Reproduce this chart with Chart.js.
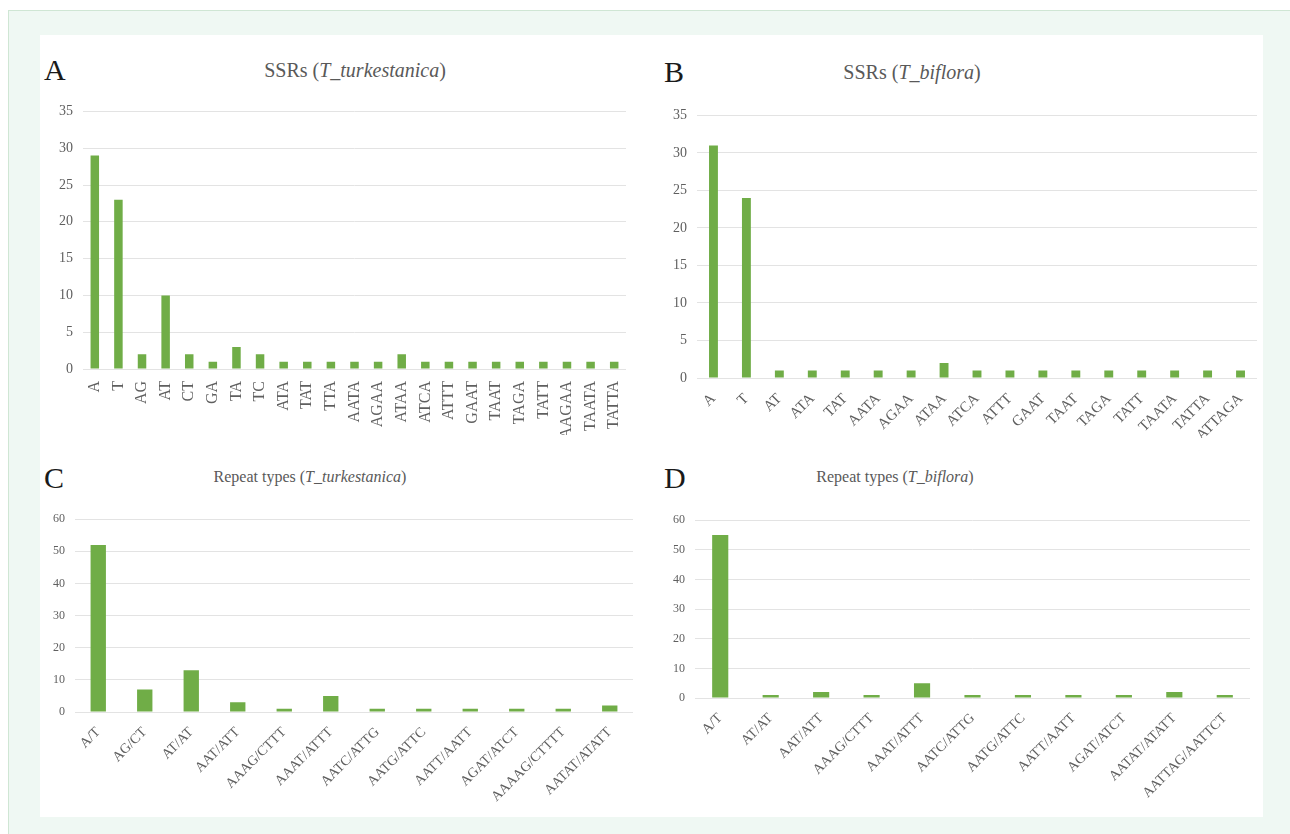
<!DOCTYPE html>
<html>
<head>
<meta charset="utf-8">
<script src="https://cdn.jsdelivr.net/npm/chart.js@4.4.1/dist/chart.umd.min.js"></script>
<style>
  body { margin: 0; background: #fff; width: 1290px; height: 834px; overflow: hidden; position: relative; font-family: "Liberation Serif", "DejaVu Serif", serif; }
  #frame { position: absolute; left: 8px; top: 10px; width: 1290px; height: 830px; background: #eff8f3; border: 1px solid #cfe6d4; }
  #sheet { position: absolute; left: 40px; top: 35px; width: 1223px; height: 782px; background: #fff; }
  .box { position: absolute; }
  .letter { position: absolute; font-size: 30px; color: #1a1a1a; line-height: 1; }
  .title { position: absolute; color: #595959; transform: translateX(-50%); white-space: nowrap; line-height: 1; }
</style>
</head>
<body>
<div id="frame"></div>
<div id="sheet"></div>

<div class="letter" style="left:44px;top:55px;">A</div>
<div class="title" style="left:355px;top:60px;font-size:20px;">SSRs (<i>T_turkestanica</i>)</div>
<div class="letter" style="left:664px;top:57px;">B</div>
<div class="title" style="left:912px;top:62px;font-size:20px;">SSRs (<i>T_biflora</i>)</div>
<div class="letter" style="left:44px;top:463px;">C</div>
<div class="title" style="left:310px;top:469px;font-size:16px;">Repeat types (<i>T_turkestanica</i>)</div>
<div class="letter" style="left:664px;top:463px;">D</div>
<div class="title" style="left:895px;top:469px;font-size:16px;">Repeat types (<i>T_biflora</i>)</div>

<div class="box" style="left:40px;top:93px;width:598px;height:342px;"><canvas id="chartA"></canvas></div>
<div class="box" style="left:655px;top:97px;width:612px;height:341px;"><canvas id="chartB"></canvas></div>
<div class="box" style="left:40px;top:502px;width:600px;height:310px;"><canvas id="chartC"></canvas></div>
<div class="box" style="left:655px;top:503px;width:605px;height:317px;"><canvas id="chartD"></canvas></div>

<script>
// ----------- DATA -----------
const ssrTurkLabels = ['A', 'T', 'AG', 'AT', 'CT', 'GA', 'TA', 'TC', 'ATA', 'TAT', 'TTA', 'AATA', 'AGAA', 'ATAA',
  'ATCA', 'ATTT', 'GAAT', 'TAAT', 'TAGA', 'TATT', 'AAGAA', 'TAATA', 'TATTA'];
const ssrTurkValues = [29, 23, 2, 10, 2, 1, 3, 2, 1, 1, 1, 1, 1, 2, 1, 1, 1, 1, 1, 1, 1, 1, 1];

const ssrBifLabels = ['A', 'T', 'AT', 'ATA', 'TAT', 'AATA', 'AGAA', 'ATAA', 'ATCA', 'ATTT', 'GAAT', 'TAAT',
  'TAGA', 'TATT', 'TAATA', 'TATTA', 'ATTAGA'];
const ssrBifValues = [31, 24, 1, 1, 1, 1, 1, 2, 1, 1, 1, 1, 1, 1, 1, 1, 1];

const repTurkLabels = ['A/T', 'AG/CT', 'AT/AT', 'AAT/ATT', 'AAAG/CTTT', 'AAAT/ATTT', 'AATC/ATTG', 'AATG/ATTC',
  'AATT/AATT', 'AGAT/ATCT', 'AAAAG/CTTTT', 'AATAT/ATATT'];
const repTurkValues = [52, 7, 13, 3, 1, 5, 1, 1, 1, 1, 1, 2];

const repBifLabels = ['A/T', 'AT/AT', 'AAT/ATT', 'AAAG/CTTT', 'AAAT/ATTT', 'AATC/ATTG', 'AATG/ATTC', 'AATT/AATT',
  'AGAT/ATCT', 'AATAT/ATATT', 'AATTAG/AATTCT'];
const repBifValues = [55, 1, 2, 1, 5, 1, 1, 1, 1, 2, 1];

// ----------- CHART SETUP -----------
const barGreen = '#70ad47';
const tickGrey = '#5f5f5f';
const gridGrey = '#e3e3e3';

function makeChart(id, labels, values, cfg) {
  return new Chart(document.getElementById(id).getContext('2d'), {
    type: 'bar',
    data: {
      labels: labels,
      datasets: [{
        data: values,
        backgroundColor: barGreen,
        barPercentage: cfg.barPct,
        categoryPercentage: 1
      }]
    },
    options: {
      responsive: true,
      maintainAspectRatio: false,
      animation: false,
      layout: { padding: { top: 10, right: cfg.padRight, left: 0, bottom: 0 } },
      plugins: { legend: { display: false }, tooltip: { enabled: false } },
      scales: {
        x: {
          grid: { display: false },
          border: { display: false },
          ticks: {
            color: tickGrey,
            font: { family: 'Liberation Serif', size: cfg.xFont },
            maxRotation: cfg.rot,
            minRotation: cfg.rot,
            autoSkip: false,
            padding: 4
          },
          afterFit: (scale) => { scale.height = cfg.xHeight; }
        },
        y: {
          min: 0,
          max: cfg.max,
          ticks: {
            stepSize: cfg.step,
            color: tickGrey,
            font: { family: 'Liberation Serif', size: cfg.yFont },
            padding: 10
          },
          grid: { color: gridGrey, lineWidth: 1, drawTicks: false },
          border: { display: false },
          afterFit: (scale) => { scale.width = cfg.yWidth; }
        }
      }
    }
  });
}

makeChart('chartA', ssrTurkLabels, ssrTurkValues,
  { max: 35, step: 5, rot: 90, xFont: 16, yFont: 14, barPct: 0.36, xHeight: 66, yWidth: 43, padRight: 12 });
makeChart('chartB', ssrBifLabels, ssrBifValues,
  { max: 35, step: 5, rot: 45, xFont: 15, yFont: 14, barPct: 0.27, xHeight: 60, yWidth: 42, padRight: 10 });
makeChart('chartC', repTurkLabels, repTurkValues,
  { max: 60, step: 10, rot: 45, xFont: 14, yFont: 12, barPct: 0.33, xHeight: 100, yWidth: 35, padRight: 7 });
makeChart('chartD', repBifLabels, repBifValues,
  { max: 60, step: 10, rot: 45, xFont: 14, yFont: 12, barPct: 0.32, xHeight: 122, yWidth: 40, padRight: 10 });
</script>
</body>
</html>
